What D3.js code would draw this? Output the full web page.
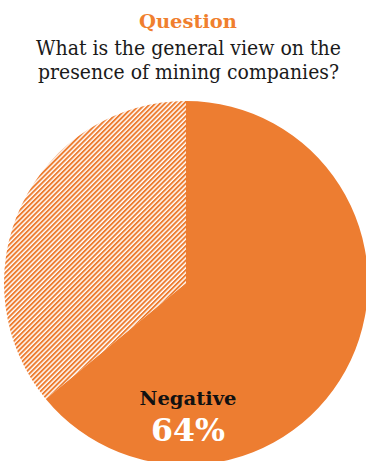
<!DOCTYPE html>
<html>
<head>
<meta charset="utf-8">
<script src="https://cdn.jsdelivr.net/npm/d3@7"></script>
<style>
  html, body { margin: 0; padding: 0; background: #ffffff; overflow: hidden; }
  svg { display: block; }
</style>
</head>
<body>
<div id="chart"></div>
<script>
// Survey answers: share of respondents per view
const categories = ["Negative", "Other"];
const values = [64, 36];
const labelled = ["Negative"];

const kicker = "Question";
const questionLines = ["What is the general view on the", "presence of mining companies?"];

const W = 366, H = 461;
const orange = "#ED7D31";

const svg = d3.select("#chart").append("svg")
  .attr("width", W).attr("height", H);

// diagonal hatch used for the unlabelled slice
const defs = svg.append("defs");
const hatch = defs.append("pattern")
  .attr("id", "hatch")
  .attr("patternUnits", "userSpaceOnUse")
  .attr("width", 3.4).attr("height", 3.4)
  .attr("patternTransform", "rotate(45)");
hatch.append("rect").attr("width", 3.4).attr("height", 3.4).attr("fill", "#ffffff");
hatch.append("rect").attr("x", 0).attr("y", 0).attr("width", 1.95).attr("height", 3.4).attr("fill", orange);

// heading
const head = svg.append("g").attr("text-anchor", "middle");
head.append("text")
  .attr("x", 188).attr("y", 28)
  .attr("font-family", "'DejaVu Serif', serif")
  .attr("font-weight", "bold")
  .attr("font-size", 19)
  .attr("fill", "#F07F2E")
  .attr("textLength", 98).attr("lengthAdjust", "spacingAndGlyphs")
  .text(kicker);

const lineWidths = [305, 301];
questionLines.forEach((t, i) => {
  head.append("text")
    .attr("x", 188.5).attr("y", 55 + i * 24)
    .attr("font-family", "'DejaVu Serif Condensed', 'DejaVu Serif', serif")
    .attr("font-size", 20.5)
    .attr("fill", "#1a1a1a")
    .attr("textLength", lineWidths[i]).attr("lengthAdjust", "spacingAndGlyphs")
    .text(t);
});

// pie
const cx = 186, cy = 283, r = 182;
const data = categories.map((c, i) => ({ category: c, value: values[i] }));
const pie = d3.pie().sort(null).value(d => d.value).startAngle(0).endAngle(2 * Math.PI);
const arc = d3.arc().innerRadius(0).outerRadius(r);

const g = svg.append("g").attr("transform", `translate(${cx},${cy})`);
g.selectAll("path.slice")
  .data(pie(data))
  .join("path")
  .attr("class", "slice")
  .attr("d", arc)
  .attr("fill", d => labelled.includes(d.data.category) ? orange : "url(#hatch)");

// slice label
const lab = g.append("g").attr("text-anchor", "middle");
data.filter(d => labelled.includes(d.category)).forEach(d => {
  lab.append("text")
    .attr("x", 2).attr("y", 122)
    .attr("font-family", "'DejaVu Serif', serif")
    .attr("font-weight", "bold")
    .attr("font-size", 19)
    .attr("fill", "#111111")
    .attr("textLength", 97).attr("lengthAdjust", "spacingAndGlyphs")
    .text(d.category);
  lab.append("text")
    .attr("x", 2).attr("y", 158)
    .attr("font-family", "'DejaVu Serif', serif")
    .attr("font-weight", "bold")
    .attr("font-size", 32)
    .attr("fill", "#ffffff")
    .attr("textLength", 74).attr("lengthAdjust", "spacingAndGlyphs")
    .text(d.value + "%");
});
</script>
</body>
</html>
